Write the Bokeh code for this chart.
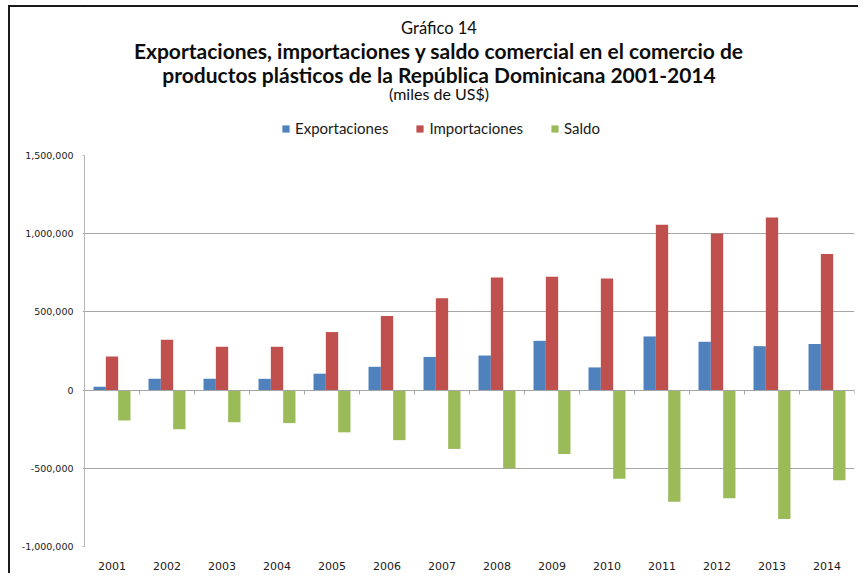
from bokeh.plotting import figure
from bokeh.layouts import column
from bokeh.models import (ColumnDataSource, FixedTicker, NumeralTickFormatter, LinearAxis,
                          Label, Legend, LegendItem, Range1d, CustomJSTickFormatter)
from bokeh.embed import file_html
from bokeh.resources import INLINE

years = ["2001", "2002", "2003", "2004", "2005", "2006", "2007",
         "2008", "2009", "2010", "2011", "2012", "2013", "2014"]
exportaciones = [21000, 72000, 72000, 72000, 105000, 149000, 212000,
                 221000, 315000, 145000, 343000, 309000, 281000, 294000]
importaciones = [215000, 322000, 277000, 277000, 371000, 473000, 588000,
                 720000, 724000, 714000, 1057000, 1001000, 1104000, 870000]
saldo = [-194000, -250000, -205000, -211000, -270000, -320000, -376000,
         -499000, -409000, -567000, -714000, -692000, -824000, -576000]
y_ticks = [-1000000, -500000, 0, 500000, 1000000, 1500000]
series_names = ["Exportaciones", "Importaciones", "Saldo"]
series_colors = ["#4F81BD", "#C0504D", "#9BBB59"]

title_small = "Gráfico 14"
title_line1 = "Exportaciones, importaciones y saldo comercial en el comercio de"
title_line2 = "productos plásticos de la República Dominicana 2001-2014"
subtitle = "(miles de US$)"

W = 850
HEAD_H = 141
BL, BR = 74, 6

# ---------- header (titles + legend) ----------
h = figure(width=W, height=HEAD_H, output_backend="svg", toolbar_location=None,
           x_range=Range1d(BL, W - BR), y_range=Range1d(HEAD_H, 0),
           x_axis_type=None, y_axis_type=None,
           min_border_left=BL, min_border_right=BR, min_border_top=0, min_border_bottom=0,
           background_fill_color="white", border_fill_color="white")
h.title.visible = False
h.outline_line_color = None
h.xgrid.visible = False
h.ygrid.visible = False

cx = 428.5
for txt, yy, size, style in [(title_small, 20.8, "16.5px", "normal"),
                             (title_line1, 43.0, "21px", "bold"),
                             (title_line2, 66.5, "21px", "bold"),
                             (subtitle, 86.3, "16px", "normal")]:
    h.add_layout(Label(x=cx, y=yy, text=txt,
                       text_align="center", text_baseline="alphabetic",
                       text_font="Lato", text_font_size=size, text_font_style=style,
                       text_color="#0d0d0d"))

dummies = [h.vbar(x=[-1000], top=[0], bottom=[-1], width=1, fill_color=c, line_color=None)
           for c in series_colors]
legend = Legend(items=[LegendItem(label=n, renderers=[r]) for n, r in zip(series_names, dummies)],
                orientation="horizontal", location=(197, 11),
                glyph_width=9, glyph_height=9, label_standoff=5, spacing=27,
                padding=0, margin=0, border_line_color=None, background_fill_alpha=0,
                label_text_font="Lato", label_text_font_size="15px", label_height=14,
                label_text_color="#1a1a1a")
h.add_layout(legend)

# ---------- main chart ----------
idx = list(range(1, len(years) + 1))
bw = 0.224
src = ColumnDataSource(dict(
    x=idx,
    xe=[i - bw for i in idx],
    xs=[i + bw for i in idx],
    exp=exportaciones, imp=importaciones, sal=saldo,
))

p = figure(width=W, height=427, output_backend="svg", toolbar_location=None,
           x_range=Range1d(0.5, len(years) + 0.5), y_range=Range1d(-1000000, 1500000),
           min_border_left=BL, min_border_right=BR, min_border_top=7, min_border_bottom=29,
           background_fill_color="white", border_fill_color="white")
p.outline_line_color = None

p.vbar(x="xe", top="exp", bottom=0, width=bw, source=src, fill_color=series_colors[0], line_color=None)
p.vbar(x="x", top="imp", bottom=0, width=bw, source=src, fill_color=series_colors[1], line_color=None)
p.vbar(x="xs", top="sal", bottom=0, width=bw, source=src, fill_color=series_colors[2], line_color=None)

xa = p.xaxis[0]
xa.ticker = FixedTicker(ticks=idx)
xa.major_label_overrides = {i: y for i, y in zip(idx, years)}
xa.axis_line_color = None
xa.major_tick_line_color = None
xa.minor_tick_line_color = None
xa.major_label_standoff = 9
xa.major_label_text_font = "DejaVu Sans"
xa.major_label_text_font_size = "11px"
xa.major_label_text_color = "#1a1a1a"

ya = p.yaxis[0]
ya.ticker = FixedTicker(ticks=y_ticks)
ya.formatter = NumeralTickFormatter(format="0,0")
ya.axis_line_color = "#b4b4b4"
ya.major_tick_line_color = "#b4b4b4"
ya.major_tick_out = 2
ya.major_tick_in = 0
ya.minor_tick_line_color = None
ya.major_label_standoff = 9
ya.major_label_text_font = "DejaVu Sans"
ya.major_label_text_font_size = "9.5px"
ya.major_label_text_color = "#1a1a1a"

p.xgrid.visible = False
p.ygrid.ticker = FixedTicker(ticks=y_ticks)
p.ygrid.grid_line_color = "#a6a6a6"

tick_axis = LinearAxis(fixed_location=0,
                       ticker=FixedTicker(ticks=[i - 0.5 for i in idx] + [len(years) + 0.5]),
                       formatter=CustomJSTickFormatter(code="return ''"),
                       major_tick_in=4, major_tick_out=0,
                       minor_tick_line_color=None,
                       axis_line_color="#a6a6a6", major_tick_line_color="#a6a6a6")
p.add_layout(tick_axis, "above")

layout = column(h, p, spacing=0, margin=(7, 0, 0, 10))
layout.styles = {"box-shadow": "-2px -2px 0px 0px #1a1a1a"}

open("out.html", "w").write(file_html(layout, INLINE))
